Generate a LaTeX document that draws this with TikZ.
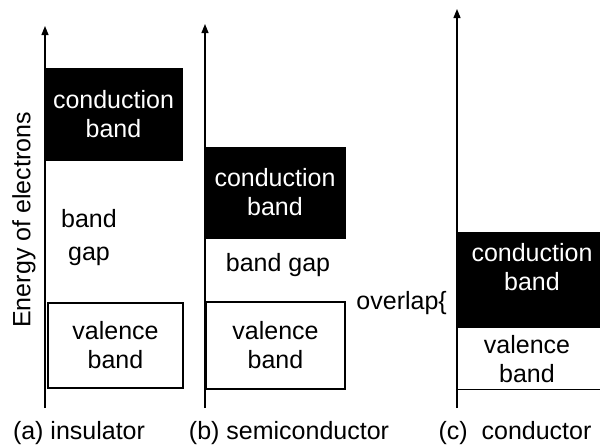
\documentclass[tikz,border=0pt]{standalone}
\usepackage{fontspec}
\setmainfont{Liberation Sans}
\usetikzlibrary{arrows.meta}
\begin{document}
\begin{tikzpicture}[x=1pt,y=-1pt,
  font=\fontsize{25}{29}\selectfont,
  axisline/.style={line width=1.2pt, -{Triangle[length=9pt,width=7pt]}},
  cband/.style={fill=black, draw=black, text=white, align=center, inner sep=0pt},
  vband/.style={draw=black, line width=1.2pt, align=center, inner sep=0pt},
  lbl/.style={align=center, inner sep=0pt}]
\useasboundingbox (0,0) rectangle (600,447);
\clip (0,0) rectangle (600,447);
% axes
\coordinate (a0) at (45,408);  \coordinate (a1) at (45,26);
\coordinate (b0) at (205,408); \coordinate (b1) at (205,24);
\coordinate (c0) at (457,408); \coordinate (c1) at (457,9);
\draw[axisline] (a0) -- (a1);
\draw[axisline] (b0) -- (b1);
\draw[axisline] (c0) -- (c1);
% (a) insulator
\node[cband, minimum width=137pt, minimum height=92pt] (cbA) at (113.5,114) {conduction\\band};
\node[vband, minimum width=135pt, minimum height=85pt] (vbA) at (115.5,345.5) {valence\\band};
\node[lbl] (gapA) at (89,238) {band\\[4pt]gap};
\node[lbl, rotate=90] (energy) at (24,220) {Energy of electrons};
% (b) semiconductor
\node[cband, minimum width=140pt, minimum height=91pt] (cbB) at (275,192.5) {conduction\\band};
\node[vband, minimum width=139pt, minimum height=87pt] (vbB) at (275.5,345.5) {valence\\band};
\node[lbl] (gapB) at (278,265) {band gap};
% (c) conductor
\node[vband, anchor=north west, minimum width=160pt, minimum height=95pt] (vbC) at (457,294) {};
\node[cband, anchor=north west, minimum width=160pt, minimum height=95pt] (cbC) at (457,232) {};
\node[lbl, text=white] (cbCt) at (532,267) {conduction\\band};
\node[lbl] (vbCt) at (527,359) {valence\\band};
\node[lbl, anchor=east] (ov) at (447,303) {overlap\{};
% captions
\node[lbl] (capA) at (79,433) {(a) insulator};
\node[lbl] (capB) at (289,433) {(b) semiconductor};
\node[lbl] (capC) at (515,433) {(c)\ \ conductor};
\end{tikzpicture}
\end{document}
